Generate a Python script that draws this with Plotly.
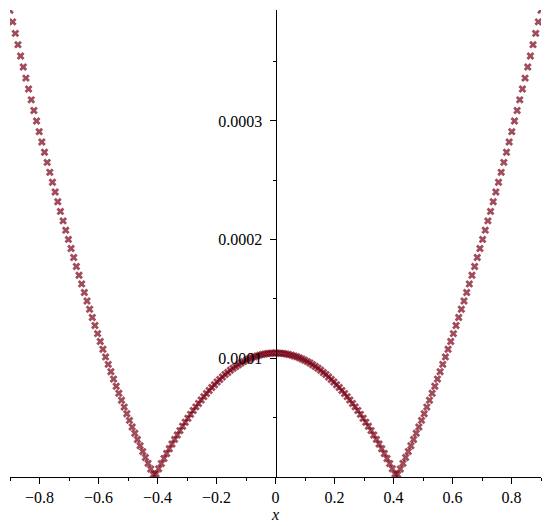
import plotly.graph_objects as go

# sample points, x from -0.9 to 0.9 (201 points)
x_vals = [
    -0.9, -0.891, -0.882, -0.873, -0.864, -0.855, -0.846, -0.837, -0.828, -0.819,
    -0.81, -0.801, -0.792, -0.783, -0.774, -0.765, -0.756, -0.747, -0.738, -0.729,
    -0.72, -0.711, -0.702, -0.693, -0.684, -0.675, -0.666, -0.657, -0.648, -0.639,
    -0.63, -0.621, -0.612, -0.603, -0.594, -0.585, -0.576, -0.567, -0.558, -0.549,
    -0.54, -0.531, -0.522, -0.513, -0.504, -0.495, -0.486, -0.477, -0.468, -0.459,
    -0.45, -0.441, -0.432, -0.423, -0.414, -0.405, -0.396, -0.387, -0.378, -0.369,
    -0.36, -0.351, -0.342, -0.333, -0.324, -0.315, -0.306, -0.297, -0.288, -0.279,
    -0.27, -0.261, -0.252, -0.243, -0.234, -0.225, -0.216, -0.207, -0.198, -0.189,
    -0.18, -0.171, -0.162, -0.153, -0.144, -0.135, -0.126, -0.117, -0.108, -0.099,
    -0.09, -0.081, -0.072, -0.063, -0.054, -0.045, -0.036, -0.027, -0.018, -0.009,
    0.0,
    0.009, 0.018, 0.027, 0.036, 0.045, 0.054, 0.063, 0.072, 0.081, 0.09,
    0.099, 0.108, 0.117, 0.126, 0.135, 0.144, 0.153, 0.162, 0.171, 0.18,
    0.189, 0.198, 0.207, 0.216, 0.225, 0.234, 0.243, 0.252, 0.261, 0.27,
    0.279, 0.288, 0.297, 0.306, 0.315, 0.324, 0.333, 0.342, 0.351, 0.36,
    0.369, 0.378, 0.387, 0.396, 0.405, 0.414, 0.423, 0.432, 0.441, 0.45,
    0.459, 0.468, 0.477, 0.486, 0.495, 0.504, 0.513, 0.522, 0.531, 0.54,
    0.549, 0.558, 0.567, 0.576, 0.585, 0.594, 0.603, 0.612, 0.621, 0.63,
    0.639, 0.648, 0.657, 0.666, 0.675, 0.684, 0.693, 0.702, 0.711, 0.72,
    0.729, 0.738, 0.747, 0.756, 0.765, 0.774, 0.783, 0.792, 0.801, 0.81,
    0.819, 0.828, 0.837, 0.846, 0.855, 0.864, 0.873, 0.882, 0.891, 0.9,
]

# values, in units of 1e-6
y_micro = [
    393.3, 383.5, 373.8, 364.3, 354.8, 345.4, 336.1, 326.9, 317.8, 308.8,
    299.9, 291.0, 282.3, 273.7, 265.1, 256.7, 248.3, 240.1, 231.9, 223.8,
    215.8, 208.0, 200.2, 192.5, 184.9, 177.4, 170.0, 162.7, 155.5, 148.3,
    141.3, 134.4, 127.6, 120.8, 114.2, 107.7, 101.2, 94.9, 88.7, 82.5,
    76.5, 70.5, 64.7, 58.9, 53.3, 47.7, 42.2, 36.9, 31.6, 26.4,
    21.4, 16.4, 11.5, 6.8, 2.1, 2.5, 6.9, 11.3, 15.6, 19.8,
    23.8, 27.8, 31.7, 35.4, 39.1, 42.7, 46.2, 49.5, 52.8, 56.0,
    59.1, 62.0, 64.9, 67.7, 70.4, 72.9, 75.4, 77.8, 80.1, 82.2,
    84.3, 86.3, 88.1, 89.9, 91.6, 93.1, 94.6, 96.0, 97.2, 98.4,
    99.4, 100.4, 101.3, 102.0, 102.7, 103.2, 103.7, 104.0, 104.3, 104.4,
    104.5,
    104.4, 104.3, 104.0, 103.7, 103.2, 102.7, 102.0, 101.3, 100.4, 99.4,
    98.4, 97.2, 96.0, 94.6, 93.1, 91.6, 89.9, 88.1, 86.3, 84.3,
    82.2, 80.1, 77.8, 75.4, 72.9, 70.4, 67.7, 64.9, 62.0, 59.1,
    56.0, 52.8, 49.5, 46.2, 42.7, 39.1, 35.4, 31.7, 27.8, 23.8,
    19.8, 15.6, 11.3, 6.9, 2.5, 2.1, 6.8, 11.5, 16.4, 21.4,
    26.4, 31.6, 36.9, 42.2, 47.7, 53.3, 58.9, 64.7, 70.5, 76.5,
    82.5, 88.7, 94.9, 101.2, 107.7, 114.2, 120.8, 127.6, 134.4, 141.3,
    148.3, 155.5, 162.7, 170.0, 177.4, 184.9, 192.5, 200.2, 208.0, 215.8,
    223.8, 231.9, 240.1, 248.3, 256.7, 265.1, 273.7, 282.3, 291.0, 299.9,
    308.8, 317.8, 326.9, 336.1, 345.4, 354.8, 364.3, 373.8, 383.5, 393.3,
]
y_vals = [v * 1e-6 for v in y_micro]

x_ticks = [-0.8, -0.6, -0.4, -0.2, 0, 0.2, 0.4, 0.6, 0.8]
x_ticktext = ['\u22120.8', '\u22120.6', '\u22120.4', '\u22120.2', '0', '0.2', '0.4', '0.6', '0.8']
x_minor = [-0.9, -0.7, -0.5, -0.3, -0.1, 0.1, 0.3, 0.5, 0.7, 0.9]
y_ticks = [0.0001, 0.0002, 0.0003]
y_ticktext = ['0.0001', '0.0002', '0.0003']
y_minor = [0.00005, 0.00015, 0.00025, 0.00035]

font = dict(family='Liberation Serif', size=16, color='black')

fig = go.Figure()
fig.add_trace(go.Scatter(
    x=x_vals, y=y_vals, mode='markers',
    marker=dict(symbol='x', size=7, color='rgba(120,0,22,0.7)', line=dict(width=0)),
    showlegend=False,
))

# the page body has an 8px margin, so margins are shifted to compensate
fig.update_layout(
    width=550, height=526,
    margin=dict(l=2, r=17, t=2, b=57),
    plot_bgcolor='white', paper_bgcolor='white',
    font=font,
    xaxis=dict(
        range=[-0.9, 0.9], showgrid=False, zeroline=False,
        showline=True, linecolor='black', linewidth=1,
        ticks='outside', ticklen=6, tickcolor='black',
        tickmode='array', tickvals=x_ticks, ticktext=x_ticktext,
        minor=dict(tickmode='array', tickvals=x_minor, ticks='outside', ticklen=3, tickcolor='black'),
        title=dict(text='<i>x</i>', standoff=0, font=font),
    ),
    yaxis=dict(
        range=[0, 0.0003935], showgrid=False, zeroline=False,
        anchor='free', position=0.5,
        showline=True, linecolor='black', linewidth=1,
        ticks='outside', ticklen=6, tickcolor='black',
        tickmode='array', tickvals=y_ticks, ticktext=y_ticktext,
        ticklabelstandoff=4,
        minor=dict(tickmode='array', tickvals=y_minor, ticks='outside', ticklen=3, tickcolor='black'),
    ),
)

fig.write_html("out.html")
